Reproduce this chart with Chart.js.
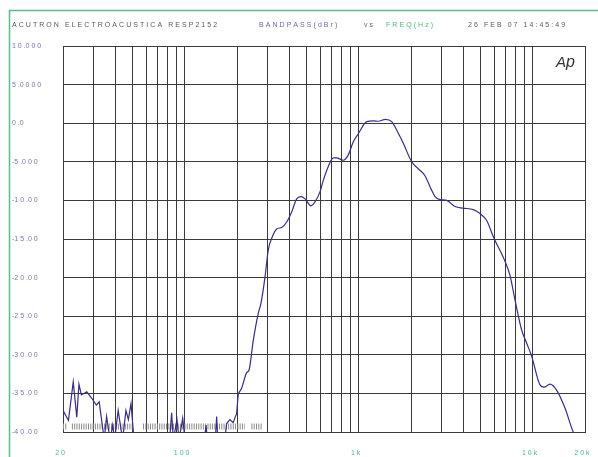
<!DOCTYPE html>
<html>
<head>
<meta charset="utf-8">
<script src="https://cdn.jsdelivr.net/npm/chart.js@4"></script>
<style>
html,body{margin:0;padding:0;background:#fff;}
#wrap{width:598px;height:457px;position:relative;}
</style>
</head>
<body>
<div id="wrap"><canvas id="c"></canvas></div>
<script>
// ---- data ----
const freqHz = [20,21.5,22.9,24.0,24.7,25.5,27.4,29.2,31.1,32.3,34.5,35.6,37.3,38.6,39.6,41.5,44.0,46.0,47.5,49.2,51.2,60,75,82,
  84.2,86.1,90.4,93,97.5,100.5,120,130,132.8,135,150,152.8,155,170,174.5,182,190,199,
  203.5,212.8,227.4,234.4,248.2,265.2,274.8,289.8,302.6,316.6,338.2,361.4,386,412.4,440.6,466.6,492,532.6,561.4,599.8,626.6,669.6,715.2,748.2,816.4,872.4,932,1000,
  1113,1215,1298,1427,1549,1691,1806,2018,2202,2406,2630,2748,2936,3208,3580,3996,4560,4984,5446,5944,6938,7414,7920,8654,9248,9880,11026,11626,12590,13756,15348,17132,20000];
const levelDb = [-37.2,-38.5,-33.5,-38.1,-33.8,-35.2,-34.8,-35.6,-36.5,-36.1,-41,-38.0,-41,-39.1,-41,-37.2,-41,-37.2,-38.4,-36.3,-41,-41,-41,-41,
  -37.5,-41,-38.4,-41,-38.2,-41,-41,-41,-39.1,-41,-41,-38.0,-41,-41,-38.9,-38.4,-38.8,-37.6,
  -35.0,-34.3,-32.3,-32.0,-28.1,-24.6,-23.3,-19.9,-16.4,-14.9,-13.7,-13.5,-12.8,-11.5,-9.8,-9.5,-9.8,-10.7,-10.2,-8.9,-7.4,-5.6,-4.5,-4.5,-4.8,-4.1,-2.4,-1.3,
  0.2,0.3,0.25,0.5,0.2,-1.3,-2.6,-5.0,-5.9,-6.8,-8.7,-9.5,-9.9,-10.0,-10.8,-11.0,-11.2,-11.7,-12.6,-14.7,-17.9,-19.7,-22.9,-26.8,-28.5,-30.2,-33.9,-34.2,-33.8,-34.6,-36.9,-40.0,-42];
// below this frequency the trace is raw noise (straight segments); above it is drawn smooth
const noiseUntilHz = 203.5;

// off-scale marker rows (start/end frequency of each hatched run)
const hatchFrom = [20, 22.5, 57.7, 242];
const hatchTo   = [21.1, 50.6, 222, 281];
const hatchLevel = -39.3;

const xGridValues = [20,30,40,50,60,70,80,90,100,200,300,400,500,600,700,800,900,1000,2000,3000,4000,5000,6000,7000,8000,9000,10000,20000];
const xLabelValues = [20,100,1000,10000,20000];
const xLabelTexts  = ['2 0','1 0 0','1 k','1 0 k','2 0 k'];
const yTickValues = [10,5,0,-5,-10,-15,-20,-25,-30,-35,-40];
const yTickLabels = ['1 0 .0 0 0','5 .0 0 0 0','0 .0','-5 .0 0 0','-1 0 .0 0','-1 5 .0 0','-2 0 .0 0','-2 5 .0 0','-3 0 .0 0','-3 5 .0 0','-4 0 .0 0'];

const titleParts = [
  {text:'ACUTRON ELECTROACUSTICA RESP2152', x:12, color:'#5a5a5a'},
  {text:'BANDPASS(dBr)', x:259, color:'#7565a8'},
  {text:'vs', x:364, color:'#6a6a6a'},
  {text:'FREQ(Hz)', x:386, color:'#4cba80'},
  {text:'26 FEB 07 14:45:49', x:468, color:'#5a5a5a'}
];

// ---- build datasets ----
const allPts = freqHz.map((f,i)=>({x:f,y:levelDb[i]}));
const noiseData = allPts.filter(p=>p.x<=noiseUntilHz);
const mainData = allPts.filter(p=>p.x>=noiseUntilHz);
const hatchData = [];
hatchFrom.forEach((f,i)=>{
  hatchData.push({x:f,y:hatchLevel});
  hatchData.push({x:hatchTo[i],y:hatchLevel});
  if(i<hatchFrom.length-1) hatchData.push({x:(hatchTo[i]+hatchFrom[i+1])/2,y:null});
});

const FONT = "'Liberation Sans', Arial, sans-serif";

function drawSpaced(ctx, text, x, y, extra){
  for(const ch of text){
    ctx.fillText(ch, x, y);
    x += ctx.measureText(ch).width + extra;
  }
}

const decor = {
  id:'decor',
  beforeDraw(chart){
    const ctx = chart.ctx;
    ctx.save();
    ctx.strokeStyle = '#55c08a';
    ctx.lineWidth = 1.5;
    ctx.beginPath();
    ctx.moveTo(9.5, 457);
    ctx.lineTo(9.5, 10.5);
    ctx.lineTo(598, 10.5);
    ctx.stroke();
    ctx.font = '7px ' + FONT;
    ctx.textBaseline = 'middle';
    ctx.textAlign = 'left';
    titleParts.forEach(p=>{ ctx.fillStyle = p.color; drawSpaced(ctx, p.text, p.x, 25, 2.05); });
    ctx.restore();
  },
  afterDraw(chart){
    const ctx = chart.ctx;
    ctx.save();
    ctx.fillStyle = '#333';
    ctx.font = 'italic 15px ' + FONT;
    ctx.textBaseline = 'alphabetic';
    ctx.fillText('A', 556, 67);
    ctx.font = 'italic 16px ' + FONT;
    ctx.fillText('p', 566, 67);
    ctx.restore();
  }
};

new Chart(document.getElementById('c'), {
  type:'line',
  data:{
    datasets:[
      {data:hatchData, borderColor:'#8c8c8c', borderWidth:6, borderDash:[1,1.3], borderCapStyle:'butt', pointRadius:0, spanGaps:false, tension:0, order:3},
      {data:noiseData, borderColor:'#3d2b86', borderWidth:1.2, pointRadius:0, tension:0, order:2},
      {data:mainData, borderColor:'#3d2b86', borderWidth:1.2, pointRadius:0, cubicInterpolationMode:'monotone', order:1}
    ]
  },
  options:{
    responsive:true, maintainAspectRatio:false, animation:false,
    layout:{padding:{left:12,right:13,top:46,bottom:0}},
    plugins:{legend:{display:false}, tooltip:{enabled:false}},
    scales:{
      x:{
        type:'logarithmic', min:20, max:20000,
        afterBuildTicks(s){ s.ticks = xGridValues.map(v=>({value:v})); },
        afterFit(s){ s.height = 25; s.paddingLeft = 0; s.paddingRight = 0; },
        grid:{color:'#3a3a3a', lineWidth:1, drawTicks:false},
        border:{color:'#3a3a3a'},
        ticks:{
          autoSkip:false, maxRotation:0, padding:17, labelOffset:-3,
          color:'#4cba80', font:{size:7, family:FONT},
          callback(v){ const i = xLabelValues.indexOf(v); return i>=0 ? xLabelTexts[i] : ''; }
        }
      },
      y:{
        min:-40, max:10,
        afterBuildTicks(s){ s.ticks = yTickValues.map(v=>({value:v})); },
        afterFit(s){ s.width = 51; s.paddingTop = 0; s.paddingBottom = 0; },
        grid:{color:'#3a3a3a', lineWidth:1, drawTicks:false},
        border:{color:'#3a3a3a'},
        ticks:{
          crossAlign:'far', padding:0,
          color:'#7e72ac', font:{size:7, family:FONT},
          callback(v){ const i = yTickValues.indexOf(v); return i>=0 ? yTickLabels[i] : ''; }
        }
      }
    }
  },
  plugins:[decor]
});
</script>
</body>
</html>
